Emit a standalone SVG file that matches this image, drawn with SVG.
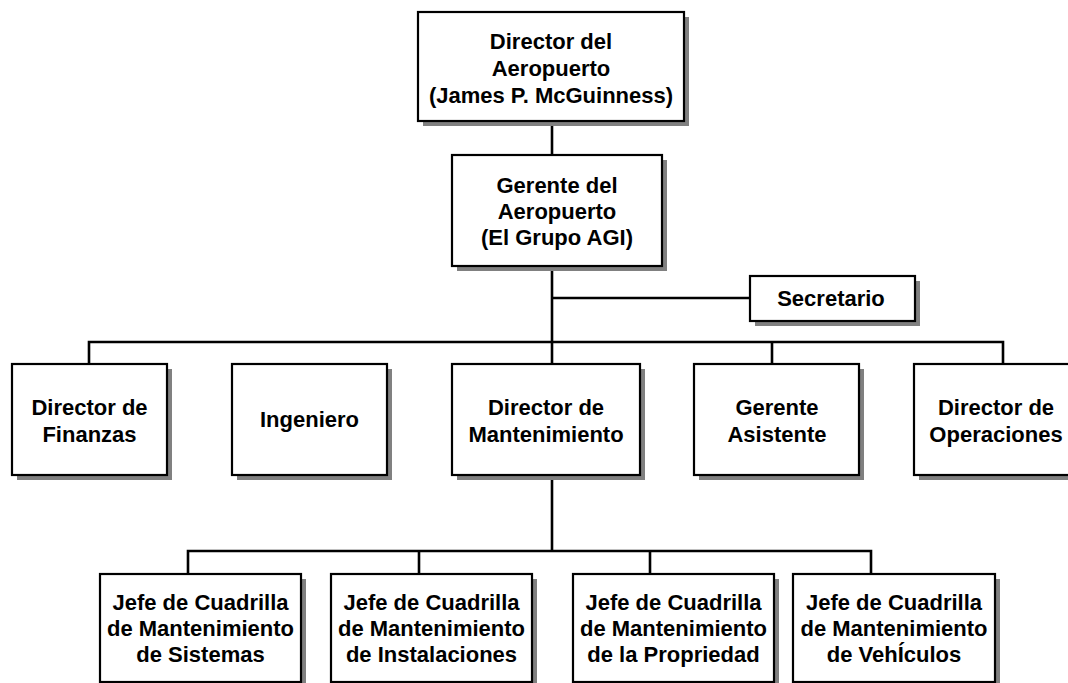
<svg xmlns="http://www.w3.org/2000/svg" width="1068" height="683" viewBox="0 0 1068 683">
<style>
.sh{fill:#808080;stroke:none}
.bx{fill:#fff;stroke:#000;stroke-width:2.2}
.t{font-family:"Liberation Sans",Arial,sans-serif;font-weight:bold;font-size:22px;fill:#000;text-anchor:middle}
.c{fill:none;stroke:#000;stroke-width:2.6}
</style>
<rect width="1068" height="683" fill="#fff"/>
<g id="connectors">
<line class="c" x1="552" y1="121" x2="552" y2="155"/>
<line class="c" x1="552" y1="266" x2="552" y2="364"/>
<line class="c" x1="552" y1="298" x2="750" y2="298"/>
<polyline class="c" points="89,364 89,342 1003,342 1003,364"/>
<line class="c" x1="772" y1="342" x2="772" y2="364"/>
<line class="c" x1="552" y1="475" x2="552" y2="551"/>
<polyline class="c" points="188,574 188,551 871,551 871,574"/>
<line class="c" x1="419" y1="551" x2="419" y2="574"/>
<line class="c" x1="650" y1="551" x2="650" y2="574"/>
</g>
<g id="director-aeropuerto">
<rect class="sh" x="423" y="17" width="266" height="109"/>
<rect class="bx" x="418" y="12" width="266" height="109"/>
<text class="t" x="551" y="49">Director del</text>
<text class="t" x="551" y="76">Aeropuerto</text>
<text class="t" x="551" y="103">(James P. McGuinness)</text>
</g>
<g id="gerente-aeropuerto">
<rect class="sh" x="457" y="160" width="210" height="111"/>
<rect class="bx" x="452" y="155" width="210" height="111"/>
<text class="t" x="557" y="193">Gerente del</text>
<text class="t" x="557" y="219">Aeropuerto</text>
<text class="t" x="557" y="245">(El Grupo AGI)</text>
</g>
<g id="secretario">
<rect class="sh" x="755" y="281" width="165" height="45"/>
<rect class="bx" x="750" y="276" width="165" height="45"/>
<text class="t" x="831" y="306">Secretario</text>
</g>
<g id="director-finanzas">
<rect class="sh" x="17" y="369" width="155" height="111"/>
<rect class="bx" x="12" y="364" width="155" height="111"/>
<text class="t" x="89.5" y="415">Director de</text>
<text class="t" x="89.5" y="442">Finanzas</text>
</g>
<g id="ingeniero">
<rect class="sh" x="237" y="369" width="155" height="111"/>
<rect class="bx" x="232" y="364" width="155" height="111"/>
<text class="t" x="309.5" y="427">Ingeniero</text>
</g>
<g id="director-mantenimiento">
<rect class="sh" x="457" y="369" width="188" height="111"/>
<rect class="bx" x="452" y="364" width="188" height="111"/>
<text class="t" x="546" y="415">Director de</text>
<text class="t" x="546" y="442">Mantenimiento</text>
</g>
<g id="gerente-asistente">
<rect class="sh" x="699" y="369" width="165" height="111"/>
<rect class="bx" x="694" y="364" width="165" height="111"/>
<text class="t" x="777" y="415">Gerente</text>
<text class="t" x="777" y="442">Asistente</text>
</g>
<g id="director-operaciones">
<rect class="sh" x="919" y="369" width="165" height="111"/>
<rect class="bx" x="914" y="364" width="165" height="111"/>
<text class="t" x="996" y="415">Director de</text>
<text class="t" x="996" y="442">Operaciones</text>
</g>
<g id="jefe-sistemas">
<rect class="sh" x="105" y="579" width="201" height="108"/>
<rect class="bx" x="100" y="574" width="201" height="108"/>
<text class="t" x="200.5" y="610">Jefe de Cuadrilla</text>
<text class="t" x="200.5" y="636">de Mantenimiento</text>
<text class="t" x="200.5" y="662">de Sistemas</text>
</g>
<g id="jefe-instalaciones">
<rect class="sh" x="336" y="579" width="201" height="108"/>
<rect class="bx" x="331" y="574" width="201" height="108"/>
<text class="t" x="431.5" y="610">Jefe de Cuadrilla</text>
<text class="t" x="431.5" y="636">de Mantenimiento</text>
<text class="t" x="431.5" y="662">de Instalaciones</text>
</g>
<g id="jefe-propiedad">
<rect class="sh" x="578" y="579" width="201" height="108"/>
<rect class="bx" x="573" y="574" width="201" height="108"/>
<text class="t" x="673.5" y="610">Jefe de Cuadrilla</text>
<text class="t" x="673.5" y="636">de Mantenimiento</text>
<text class="t" x="673.5" y="662">de la Propriedad</text>
</g>
<g id="jefe-vehiculos">
<rect class="sh" x="798" y="579" width="202" height="108"/>
<rect class="bx" x="793" y="574" width="202" height="108"/>
<text class="t" x="894" y="610">Jefe de Cuadrilla</text>
<text class="t" x="894" y="636">de Mantenimiento</text>
<text class="t" x="894" y="662">de VehÍculos</text>
</g>
</svg>
